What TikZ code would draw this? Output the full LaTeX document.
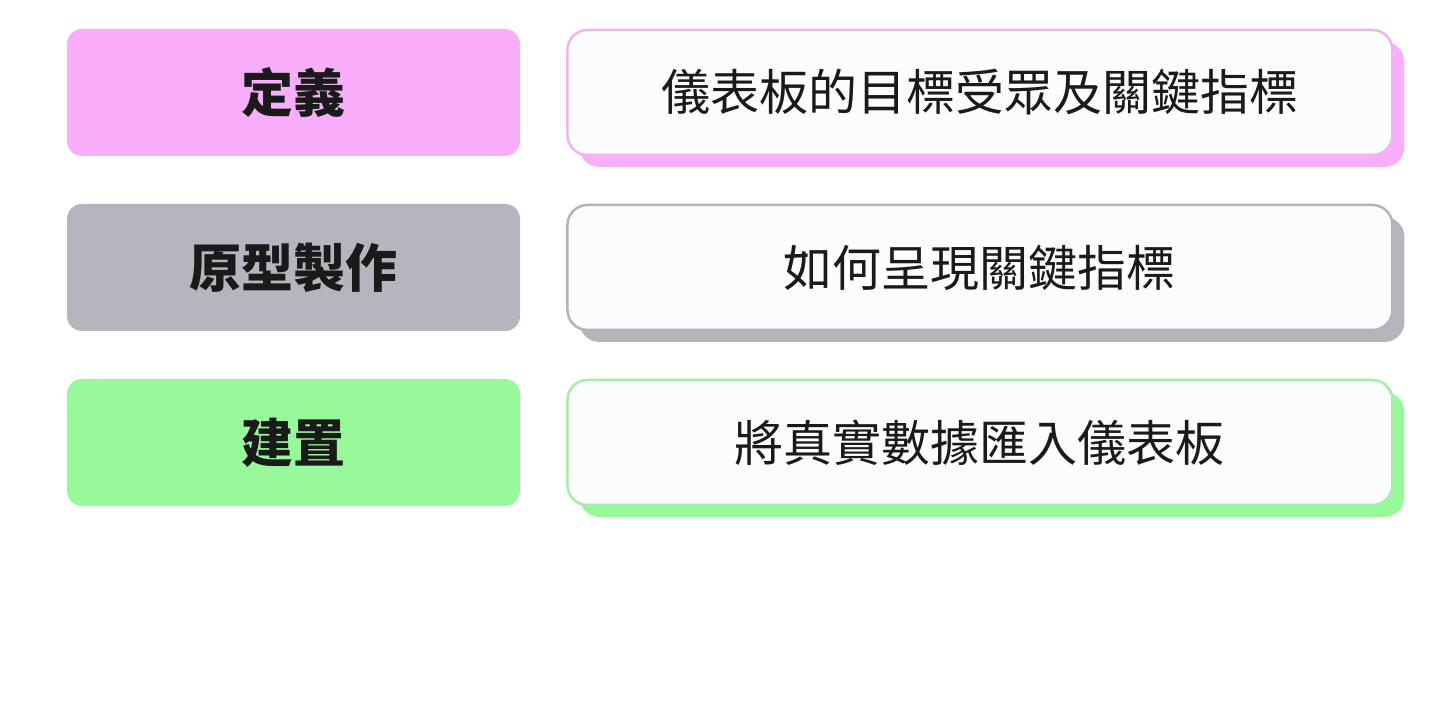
\documentclass[tikz,border=0pt]{standalone}
\usepackage{fontspec}
\newfontfamily\cjk{Noto Sans CJK TC}
\usetikzlibrary{shadows}
\usetikzlibrary{positioning}
\definecolor{inkc}{HTML}{1A1A1A}
\definecolor{cardc}{HTML}{FAFCFD}
\definecolor{pinkc}{HTML}{F9AEFB}
\definecolor{pinkline}{HTML}{EDB6EE}
\definecolor{grayc}{HTML}{B4B5BD}
\definecolor{grayline}{HTML}{B3B4B8}
\definecolor{greenc}{HTML}{98F99A}
\definecolor{greenline}{HTML}{A9EBA9}
\tikzstyle{stage}=[rounded corners=15pt,minimum width=453pt,minimum height=127pt,inner sep=0pt,text=inkc,font=\cjk\bfseries\fontsize{52}{52}\selectfont]
\tikzstyle{desc}=[rounded corners=20pt,fill=cardc,line width=2.5pt,minimum width=825pt,minimum height=125pt,inner sep=0pt,text=inkc,font=\cjk\fontsize{49}{49}\selectfont]
\tikzstyle{lift}=[drop shadow={shadow xshift=12pt,shadow yshift=-12pt,opacity=1,fill=#1}]

\begin{document}
\begin{tikzpicture}[x=1pt,y=1pt]
	\useasboundingbox (0,0) rectangle (1436,715);
	\node[stage,fill=pinkc] (define) at (293.5,622.5) {定義};
	\node[stage,fill=grayc] (proto) at (293.5,447.5) {原型製作};
	\node[stage,fill=greenc] (build) at (293.5,272.5) {建置};
	\node[desc,draw=pinkline,lift=pinkc,right=46pt of define] (defineinfo) {儀表板的目標受眾及關鍵指標};
	\node[desc,draw=grayline,lift=grayc,right=46pt of proto] (protoinfo) {如何呈現關鍵指標};
	\node[desc,draw=greenline,lift=greenc,right=46pt of build] (buildinfo) {將真實數據匯入儀表板};
\end{tikzpicture}
\end{document}
